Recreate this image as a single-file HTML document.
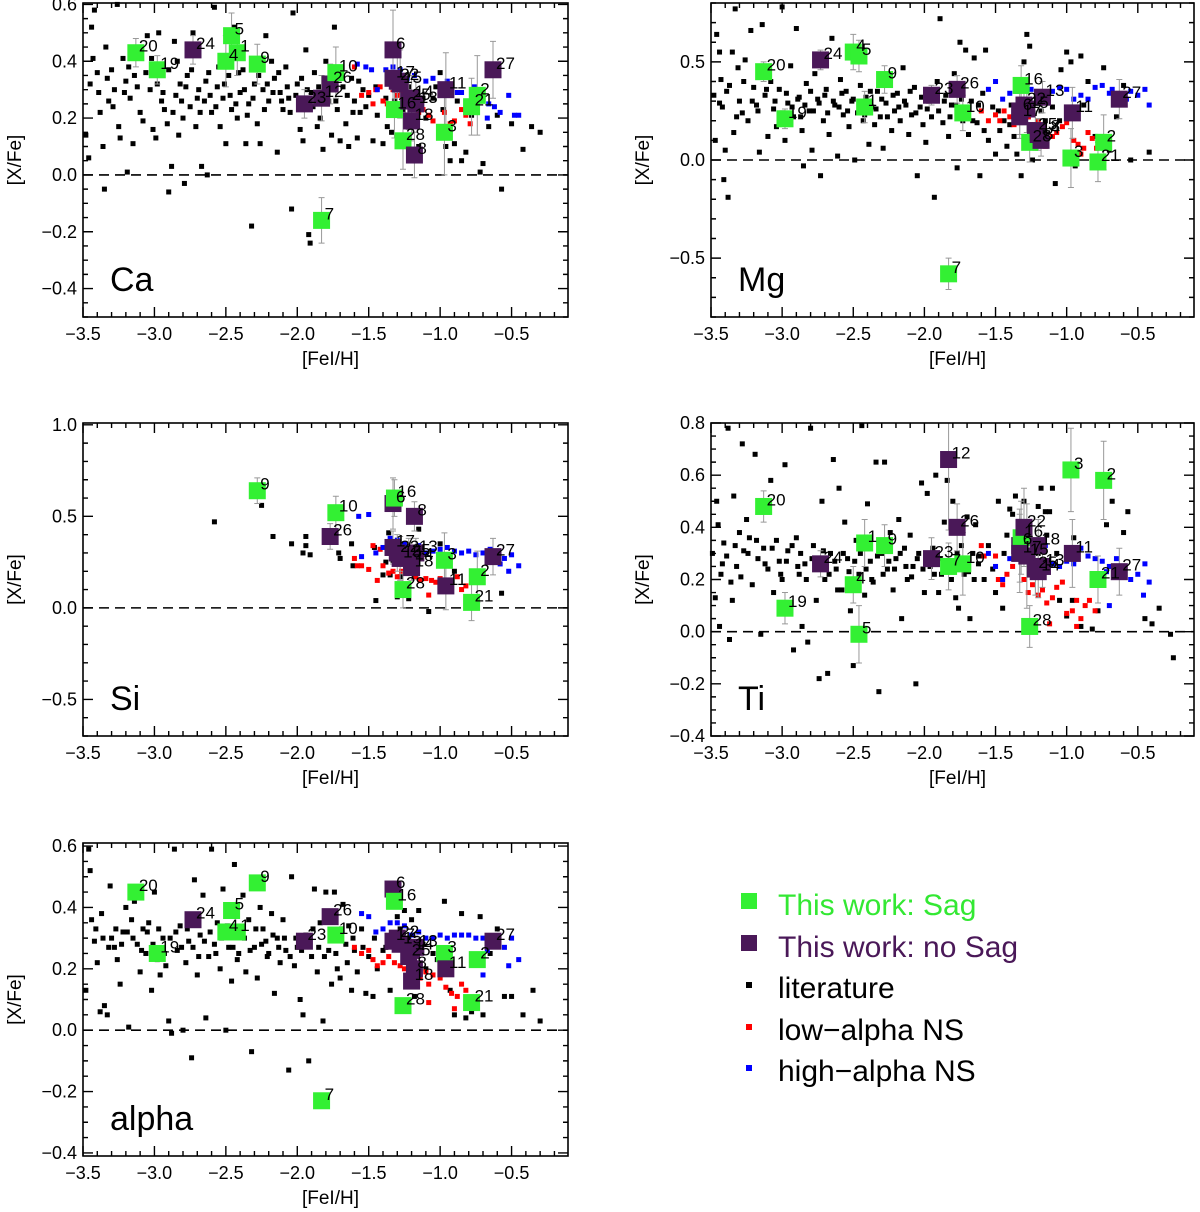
<!DOCTYPE html>
<html><head><meta charset="utf-8"><style>
html,body{margin:0;padding:0;background:#fff}
svg{display:block;font-family:"Liberation Sans",sans-serif}
</style></head><body>
<svg id="fig" width="1200" height="1212" viewBox="0 0 1200 1212" xmlns="http://www.w3.org/2000/svg">
<g>
<rect x="741" y="893" width="16" height="16" fill="#33f033"/>
<text x="778" y="915" font-size="30" fill="#33e833">This work: Sag</text>
<rect x="741" y="935" width="16" height="16" fill="#4a1858"/>
<text x="778" y="957" font-size="30" fill="#4a1858">This work: no Sag</text>
<rect x="746" y="982" width="6" height="6" fill="#000"/>
<text x="778" y="998" font-size="30" fill="#000">literature</text>
<rect x="746" y="1024" width="6" height="6" fill="#f00"/>
<text x="778" y="1040" font-size="30" fill="#000">low−alpha NS</text>
<rect x="746" y="1065" width="6" height="6" fill="#00f"/>
<text x="778" y="1081" font-size="30" fill="#000">high−alpha NS</text>
</g>
</svg>
<script>
// ---- data ----
const starIds = [20,19,24,4,5,1,9,23,12,7,26,10,6,16,17,22,15,25,28,14,13,18,8,3,11,21,2,27];
const starFe  = [-3.13,-2.98,-2.73,-2.50,-2.46,-2.42,-2.28,-1.95,-1.83,-1.83,-1.77,-1.73,-1.33,-1.32,-1.33,-1.30,-1.28,-1.22,-1.26,-1.20,-1.17,-1.20,-1.18,-0.97,-0.96,-0.78,-0.74,-0.63];
const starSag = [1,1,0,1,1,1,1,0,0,1,0,1,0,1,0,0,0,0,1,0,0,0,0,1,0,1,1,0];
const caVals  = [0.43,0.37,0.44,0.40,0.49,0.43,0.39,0.25,0.27,-0.16,0.32,0.36,0.44,0.23,0.34,0.33,0.32,0.26,0.12,0.27,0.25,0.19,0.07,0.15,0.30,0.24,0.28,0.37];
const mgVals  = [0.45,0.21,0.51,0.55,0.53,0.27,0.41,0.33,null,-0.58,0.36,0.24,0.25,0.38,0.22,0.28,0.26,0.15,0.09,0.13,0.32,0.14,0.10,0.01,0.24,-0.01,0.09,0.31];
const siVals  = [null,null,null,null,null,null,0.64,null,null,null,0.39,0.52,0.57,0.60,0.33,0.30,0.27,0.28,0.10,0.26,0.30,0.22,0.50,0.26,0.12,0.03,0.17,0.28];
const tiVals  = [0.48,0.09,0.26,0.18,-0.01,0.34,0.33,0.28,0.66,0.25,0.40,0.26,0.33,0.36,0.30,0.40,0.29,0.24,0.02,0.23,0.25,0.33,null,0.62,0.30,0.20,0.58,0.23];
const alVals  = [0.45,0.25,0.36,0.32,0.39,0.32,0.48,0.29,null,-0.23,0.37,0.31,0.46,0.42,0.29,0.30,0.28,0.24,0.08,0.26,0.27,0.16,0.20,0.25,0.20,0.09,0.23,0.29];
const starErr = [0.05,0.05,0.05,0.09,0.08,0.08,0.07,0.05,0.08,0.08,0.07,0.09,0.14,0.1,0.09,0.1,0.12,0.1,0.1,0.08,0.08,0.07,0.08,0.15,0.13,0.1,0.14,0.1];
const tiErr   = [0.06,0.06,0.05,0.07,0.11,0.09,0.08,0.08,0.27,0.09,0.09,0.12,0.14,0.14,0.15,0.15,0.2,0.1,0.08,0.1,0.08,0.1,0.1,0.16,0.13,0.09,0.15,0.09];

const litCa = [[-3.48,0.14],[-3.46,0.06],[-3.45,0.32],[-3.44,0.52],[-3.42,0.58],[-3.4,0.36],[-3.38,0.22],[-3.36,0.1],[-3.35,-0.05],[-3.34,0.45],[-3.32,0.26],[-3.3,0.37],[-3.28,0.3],[-3.26,0.6],[-3.25,0.17],[-3.24,0.13],[-3.22,0.41],[-3.2,0.33],[-3.19,0.01],[-3.17,0.27],[-3.15,0.11],[-3.14,0.35],[-3.1,0.22],[-3.08,0.19],[-3.05,0.49],[-3.03,0.3],[-3.01,0.16],[-2.99,0.13],[-2.97,0.5],[-2.95,0.26],[-2.93,0.23],[-2.91,0.18],[-2.9,-0.06],[-2.88,0.03],[-2.86,0.47],[-2.85,0.28],[-2.83,0.14],[-2.82,0.32],[-2.8,0.2],[-2.79,-0.03],[-2.77,0.35],[-2.75,0.24],[-2.73,0.5],[-2.71,0.17],[-2.69,0.3],[-2.67,0.03],[-2.65,0.26],[-2.63,0.0],[-2.62,0.36],[-2.6,0.22],[-2.58,0.59],[-2.56,0.31],[-2.54,0.17],[-2.52,0.27],[-2.5,0.11],[-2.48,0.35],[-2.46,0.23],[-2.44,0.52],[-2.42,0.2],[-2.4,0.29],[-2.38,0.37],[-2.36,0.11],[-2.34,0.25],[-2.32,-0.18],[-2.3,0.32],[-2.28,0.18],[-2.26,0.11],[-2.24,0.3],[-2.22,0.49],[-2.2,0.26],[-2.18,0.4],[-2.16,0.34],[-2.14,0.08],[-2.12,0.29],[-2.1,0.23],[-2.08,0.38],[-2.06,0.27],[-2.04,-0.12],[-2.03,0.57],[-2.0,0.32],[-1.98,0.16],[-1.96,0.12],[-1.94,0.44],[-1.92,-0.21],[-1.91,-0.24],[-1.9,0.29],[-1.88,0.36],[-1.86,0.17],[-1.84,0.2],[-1.82,0.09],[-1.8,0.4],[-1.78,0.26],[-1.76,0.14],[-1.74,0.52],[-1.72,0.23],[-1.7,0.12],[-1.68,0.31],[-1.66,0.18],[-1.64,0.1],[-1.62,0.34],[-1.6,0.26],[-1.58,0.13],[-1.56,0.22],[-1.54,0.3],[-1.5,0.28],[-1.47,0.12],[-1.44,0.21],[-1.4,0.11],[-1.37,0.17],[-1.34,0.15],[-1.3,0.21],[-1.28,0.34],[-1.25,0.14],[-1.22,0.31],[-1.18,0.23],[-1.15,0.1],[-1.1,0.2],[-1.05,0.27],[-1.0,0.36],[-0.96,0.1],[-0.93,0.05],[-0.9,0.11],[-0.85,0.05],[-0.82,0.08],[-0.78,0.21],[-0.72,0.01],[-0.7,0.04],[-0.66,0.17],[-0.6,0.21],[-0.57,-0.05],[-0.5,0.18],[-0.42,0.09],[-0.36,0.17],[-0.3,0.15]];
const litCa2 = [[-3.43,0.41],[-3.39,0.29],[-3.33,0.34],[-3.29,0.24],[-3.21,0.29],[-3.18,0.38],[-3.12,0.31],[-3.06,0.36],[-3.02,0.41],[-2.98,0.32],[-2.94,0.29],[-2.9,0.37],[-2.87,0.22],[-2.84,0.4],[-2.81,0.26],[-2.78,0.31],[-2.74,0.37],[-2.7,0.27],[-2.68,0.22],[-2.64,0.33],[-2.61,0.28],[-2.57,0.24],[-2.55,0.38],[-2.51,0.32],[-2.47,0.28],[-2.43,0.25],[-2.41,0.36],[-2.37,0.3],[-2.35,0.21],[-2.31,0.27],[-2.27,0.35],[-2.23,0.23],[-2.21,0.32],[-2.17,0.29],[-2.13,0.36],[-2.11,0.26],[-2.07,0.31],[-2.05,0.22],[-2.01,0.28],[-1.97,0.34],[-1.93,0.3],[-1.89,0.24],[-1.85,0.31],[-1.81,0.33],[-1.77,0.3],[-1.73,0.26],[-1.69,0.37],[-1.65,0.28],[-1.61,0.22],[-1.57,0.33],[-1.52,0.24],[-1.45,0.31],[-1.38,0.27],[-1.32,0.26],[-1.26,0.23],[-1.2,0.18],[-1.12,0.27],[-1.03,0.31],[-0.98,0.23],[-0.88,0.26]];
const litMg = [[-3.48,0.33],[-3.47,0.1],[-3.46,0.64],[-3.44,0.55],[-3.43,0.41],[-3.42,0.27],[-3.41,-0.1],[-3.4,0.05],[-3.38,-0.19],[-3.37,0.38],[-3.35,0.55],[-3.34,0.14],[-3.33,0.77],[-3.31,0.47],[-3.3,0.3],[-3.28,0.24],[-3.26,0.51],[-3.24,0.2],[-3.22,0.66],[-3.2,0.37],[-3.18,0.28],[-3.16,0.04],[-3.14,0.69],[-3.12,0.33],[-3.1,0.12],[-3.08,0.4],[-3.06,0.26],[-3.04,0.17],[-3.02,0.36],[-3.0,0.78],[-2.98,0.1],[-2.96,0.29],[-2.94,0.48],[-2.92,0.22],[-2.9,0.67],[-2.88,0.32],[-2.86,0.15],[-2.85,-0.03],[-2.83,0.39],[-2.81,0.25],[-2.79,0.05],[-2.77,0.44],[-2.75,0.31],[-2.73,-0.08],[-2.71,0.2],[-2.69,0.36],[-2.67,0.13],[-2.65,0.62],[-2.63,0.28],[-2.61,0.02],[-2.59,0.41],[-2.57,0.23],[-2.55,0.35],[-2.53,0.17],[-2.51,0.3],[-2.49,0.0],[-2.47,0.24],[-2.45,0.38],[-2.43,0.2],[-2.41,0.32],[-2.39,0.08],[-2.37,0.27],[-2.35,0.18],[-2.33,0.35],[-2.31,0.22],[-2.29,0.06],[-2.27,0.29],[-2.25,0.4],[-2.23,0.15],[-2.21,0.25],[-2.19,0.34],[-2.17,0.2],[-2.15,0.47],[-2.13,0.28],[-2.11,0.13],[-2.09,0.23],[-2.07,0.37],[-2.05,-0.08],[-2.03,0.27],[-2.01,0.18],[-1.99,0.09],[-1.97,0.3],[-1.95,0.22],[-1.93,-0.19],[-1.91,0.4],[-1.89,0.72],[-1.87,0.19],[-1.85,0.33],[-1.83,0.12],[-1.81,0.28],[-1.79,0.44],[-1.77,-0.04],[-1.75,0.6],[-1.73,0.2],[-1.71,0.56],[-1.69,0.13],[-1.67,0.3],[-1.65,0.52],[-1.63,0.19],[-1.61,-0.08],[-1.59,0.34],[-1.57,0.56],[-1.55,0.1],[-1.52,0.27],[-1.5,0.03],[-1.47,0.15],[-1.44,0.2],[-1.42,0.07],[-1.39,0.28],[-1.37,0.12],[-1.35,0.03],[-1.32,-0.08],[-1.3,0.5],[-1.28,0.64],[-1.26,0.58],[-1.24,0.0],[-1.2,0.3],[-1.15,0.2],[-1.1,0.27],[-1.08,-0.12],[-1.04,0.46],[-1.0,0.55],[-0.97,0.5],[-0.94,-0.03],[-0.9,0.53],[-0.85,0.4],[-0.8,0.12],[-0.74,0.47],[-0.7,0.05],[-0.65,0.22],[-0.6,0.38],[-0.55,0.0],[-0.42,0.04]];
const litMg2 = [[-3.44,0.29],[-3.39,0.35],[-3.32,0.22],[-3.27,0.4],[-3.21,0.3],[-3.17,0.25],[-3.11,0.36],[-3.05,0.3],[-3.0,0.24],[-2.97,0.34],[-2.93,0.27],[-2.89,0.31],[-2.87,0.22],[-2.84,0.28],[-2.8,0.35],[-2.78,0.25],[-2.74,0.29],[-2.7,0.33],[-2.68,0.24],[-2.64,0.3],[-2.6,0.27],[-2.58,0.34],[-2.54,0.25],[-2.5,0.31],[-2.46,0.29],[-2.42,0.23],[-2.38,0.35],[-2.34,0.26],[-2.3,0.31],[-2.26,0.22],[-2.22,0.33],[-2.18,0.27],[-2.14,0.3],[-2.1,0.35],[-2.06,0.24],[-2.02,0.32],[-1.98,0.26],[-1.94,0.33],[-1.9,0.25],[-1.86,0.3],[-1.82,0.22],[-1.78,0.28],[-1.74,0.31],[-1.7,0.24],[-1.66,0.2],[-1.62,0.28],[-1.58,0.15],[-1.48,0.25],[-1.4,0.18],[-1.33,0.3],[-1.27,0.22],[-1.18,0.25],[-1.05,0.2],[-0.88,0.28]];
const litSi = [[-2.58,0.47],[-2.25,0.56],[-2.17,0.39],[-2.04,0.35],[-1.96,0.3],[-1.94,0.34],[-1.94,0.39],[-1.91,0.29],[-1.73,0.54],[-1.71,0.3],[-1.7,0.27],[-1.62,0.35],[-1.61,0.23],[-1.46,0.33],[-1.45,0.04],[-1.38,0.25],[-1.36,0.41],[-1.35,0.18],[-1.33,0.26],[-1.3,0.06],[-1.28,0.17],[-1.22,0.05],[-1.18,0.17],[-1.15,0.43],[-1.08,-0.02],[-1.0,0.35],[-0.9,0.2],[-0.57,0.08],[-1.2,0.3],[-1.4,0.18]];
const litTi = [[-3.49,0.3],[-3.47,0.13],[-3.46,0.5],[-3.45,0.41],[-3.44,0.02],[-3.42,0.26],[-3.41,0.34],[-3.38,0.78],[-3.37,-0.03],[-3.36,0.19],[-3.35,0.12],[-3.34,0.52],[-3.32,0.25],[-3.3,0.38],[-3.28,0.72],[-3.27,0.31],[-3.25,0.43],[-3.23,0.36],[-3.21,0.18],[-3.19,0.68],[-3.17,0.28],[-3.15,-0.01],[-3.13,0.32],[-3.1,0.24],[-3.08,0.58],[-3.06,0.15],[-3.04,0.35],[-3.02,0.27],[-3.0,0.2],[-2.98,0.64],[-2.96,0.31],[-2.94,0.08],[-2.92,-0.07],[-2.9,0.36],[-2.88,0.22],[-2.86,0.02],[-2.84,0.26],[-2.82,-0.04],[-2.8,0.78],[-2.78,0.33],[-2.76,0.12],[-2.74,-0.18],[-2.72,0.5],[-2.7,0.2],[-2.68,-0.16],[-2.66,0.3],[-2.64,0.66],[-2.62,0.24],[-2.6,0.55],[-2.58,0.16],[-2.56,0.42],[-2.54,0.28],[-2.52,0.08],[-2.5,-0.13],[-2.48,0.35],[-2.46,0.22],[-2.44,0.79],[-2.42,0.14],[-2.4,0.49],[-2.38,0.27],[-2.36,0.19],[-2.34,0.65],[-2.32,-0.23],[-2.3,0.3],[-2.28,0.65],[-2.26,0.24],[-2.24,0.38],[-2.22,0.16],[-2.2,0.28],[-2.18,0.43],[-2.16,0.05],[-2.14,0.32],[-2.12,0.2],[-2.1,0.37],[-2.08,0.25],[-2.06,-0.2],[-2.04,0.3],[-2.02,0.57],[-2.0,0.15],[-1.98,0.53],[-1.96,0.25],[-1.94,0.32],[-1.92,0.6],[-1.9,0.15],[-1.88,0.22],[-1.86,0.42],[-1.84,0.58],[-1.82,0.27],[-1.8,0.5],[-1.78,0.13],[-1.76,0.09],[-1.74,0.33],[-1.72,0.22],[-1.7,0.44],[-1.68,0.05],[-1.66,0.3],[-1.64,0.41],[-1.62,0.26],[-1.58,0.2],[-1.55,0.33],[-1.5,0.15],[-1.48,0.5],[-1.45,0.09],[-1.42,0.37],[-1.4,0.47],[-1.38,0.45],[-1.36,0.52],[-1.34,0.4],[-1.3,0.5],[-1.27,0.3],[-1.24,0.22],[-1.2,0.48],[-1.18,0.55],[-1.15,0.46],[-1.12,0.46],[-1.1,0.55],[-1.05,0.12],[-1.0,0.06],[-0.96,0.12],[-0.9,0.02],[-0.82,0.01],[-0.78,0.08],[-0.72,0.41],[-0.68,0.5],[-0.6,0.38],[-0.57,0.46],[-0.45,0.05],[-0.4,0.03],[-0.35,0.09],[-0.27,-0.01],[-0.25,-0.1]];
const litTi2 = [[-3.43,0.22],[-3.39,0.29],[-3.33,0.33],[-3.29,0.21],[-3.24,0.3],[-3.18,0.35],[-3.12,0.26],[-3.07,0.32],[-3.01,0.22],[-2.97,0.27],[-2.93,0.33],[-2.89,0.25],[-2.87,0.3],[-2.83,0.2],[-2.79,0.28],[-2.75,0.24],[-2.71,0.31],[-2.67,0.22],[-2.63,0.27],[-2.61,0.16],[-2.57,0.3],[-2.53,0.23],[-2.49,0.27],[-2.45,0.3],[-2.41,0.24],[-2.37,0.2],[-2.33,0.29],[-2.29,0.22],[-2.25,0.27],[-2.21,0.24],[-2.17,0.3],[-2.13,0.25],[-2.09,0.21],[-2.05,0.28],[-2.01,0.24],[-1.97,0.3],[-1.93,0.22],[-1.89,0.28],[-1.85,0.25],[-1.81,0.2],[-1.77,0.3],[-1.73,0.27],[-1.69,0.23],[-1.65,0.2],[-1.61,0.29],[-1.52,0.24],[-1.44,0.3],[-1.37,0.35],[-1.32,0.28],[-1.26,0.4],[-1.2,0.3],[-1.14,0.37],[-1.07,0.3],[-0.95,0.36]];
const litAl = [[-3.48,0.13],[-3.46,0.59],[-3.45,0.52],[-3.44,0.36],[-3.42,0.29],[-3.4,0.22],[-3.38,0.06],[-3.37,0.38],[-3.35,0.08],[-3.33,0.05],[-3.31,0.47],[-3.3,0.3],[-3.28,0.27],[-3.26,0.23],[-3.24,0.15],[-3.22,0.32],[-3.2,0.4],[-3.18,0.01],[-3.16,0.36],[-3.14,0.42],[-3.12,0.28],[-3.1,0.19],[-3.08,0.33],[-3.06,0.25],[-3.04,0.35],[-3.02,0.13],[-3.0,0.45],[-2.98,0.23],[-2.96,0.18],[-2.94,0.3],[-2.92,0.21],[-2.9,0.03],[-2.88,-0.01],[-2.86,0.59],[-2.84,0.26],[-2.82,0.34],[-2.8,0.0],[-2.78,0.22],[-2.76,0.29],[-2.74,-0.09],[-2.72,0.49],[-2.7,0.18],[-2.68,0.31],[-2.66,0.44],[-2.64,0.04],[-2.62,0.24],[-2.6,0.59],[-2.58,0.28],[-2.56,0.35],[-2.54,0.2],[-2.52,0.46],[-2.5,0.0],[-2.48,0.27],[-2.46,0.16],[-2.44,0.54],[-2.42,0.23],[-2.4,0.31],[-2.38,0.44],[-2.36,0.19],[-2.34,0.36],[-2.32,-0.07],[-2.3,0.27],[-2.28,0.17],[-2.26,0.4],[-2.24,0.33],[-2.22,0.29],[-2.2,0.25],[-2.18,0.38],[-2.16,0.12],[-2.14,0.3],[-2.12,0.22],[-2.1,0.36],[-2.08,0.26],[-2.06,-0.13],[-2.04,0.5],[-2.02,0.21],[-2.0,0.27],[-1.98,0.1],[-1.96,0.05],[-1.94,0.31],[-1.92,-0.1],[-1.9,0.24],[-1.88,0.46],[-1.86,0.19],[-1.84,0.35],[-1.82,0.03],[-1.8,0.45],[-1.78,0.26],[-1.76,0.15],[-1.74,0.45],[-1.72,0.2],[-1.7,0.17],[-1.68,0.41],[-1.66,0.28],[-1.64,0.34],[-1.62,0.13],[-1.6,0.26],[-1.58,0.19],[-1.55,0.33],[-1.52,0.12],[-1.5,0.24],[-1.47,0.11],[-1.44,0.2],[-1.4,0.26],[-1.35,0.13],[-1.3,0.37],[-1.25,0.39],[-1.22,0.3],[-1.18,0.11],[-1.15,0.39],[-1.1,0.2],[-1.05,0.25],[-1.0,0.18],[-0.97,0.42],[-0.93,0.13],[-0.9,0.05],[-0.85,0.38],[-0.82,0.04],[-0.78,0.06],[-0.72,0.37],[-0.7,0.05],[-0.65,0.25],[-0.6,0.33],[-0.55,0.11],[-0.5,0.11],[-0.42,0.05],[-0.35,0.13],[-0.3,0.03]];
const litAl2 = [[-3.41,0.33],[-3.36,0.3],[-3.32,0.27],[-3.27,0.33],[-3.23,0.28],[-3.19,0.32],[-3.15,0.3],[-3.09,0.26],[-3.05,0.32],[-3.01,0.28],[-2.97,0.33],[-2.93,0.25],[-2.89,0.3],[-2.85,0.32],[-2.81,0.27],[-2.77,0.33],[-2.73,0.27],[-2.69,0.24],[-2.65,0.29],[-2.61,0.32],[-2.57,0.25],[-2.53,0.3],[-2.49,0.34],[-2.45,0.27],[-2.41,0.25],[-2.37,0.3],[-2.33,0.26],[-2.29,0.33],[-2.25,0.28],[-2.21,0.24],[-2.17,0.31],[-2.13,0.27],[-2.09,0.3],[-2.05,0.24],[-2.01,0.3],[-1.97,0.26],[-1.93,0.29],[-1.89,0.33],[-1.85,0.27],[-1.81,0.24],[-1.77,0.3],[-1.73,0.25],[-1.69,0.33],[-1.65,0.22],[-1.61,0.3],[-1.54,0.27],[-1.46,0.3],[-1.38,0.27],[-1.28,0.33],[-1.2,0.36],[-1.12,0.28],[-1.02,0.23]];

const redCa = [[-1.6,0.38],[-1.55,0.28],[-1.5,0.29],[-1.47,0.25],[-1.45,0.3],[-1.42,0.31],[-1.4,0.26],[-1.37,0.25],[-1.33,0.3],[-1.3,0.28],[-1.27,0.29],[-1.25,0.27],[-1.22,0.25],[-1.2,0.29],[-1.17,0.24],[-1.15,0.22],[-1.12,0.23],[-1.08,0.21],[-1.05,0.19],[-1.0,0.28],[-0.97,0.22],[-0.93,0.18],[-0.9,0.19],[-0.85,0.23],[-0.82,0.21],[-0.79,0.18]];
const blueCa = [[-1.58,0.39],[-1.52,0.38],[-1.48,0.37],[-1.44,0.3],[-1.38,0.37],[-1.33,0.38],[-1.28,0.37],[-1.23,0.34],[-1.18,0.35],[-1.1,0.33],[-1.05,0.34],[-1.0,0.32],[-0.95,0.33],[-0.92,0.3],[-0.88,0.29],[-0.85,0.29],[-0.8,0.26],[-0.76,0.31],[-0.72,0.3],[-0.7,0.27],[-0.66,0.25],[-0.62,0.24],[-0.58,0.22],[-0.52,0.28],[-0.48,0.21],[-0.45,0.21],[-0.67,0.2]];
const redMg = [[-1.6,0.25],[-1.55,0.2],[-1.5,0.23],[-1.47,0.2],[-1.44,0.25],[-1.4,0.22],[-1.37,0.18],[-1.33,0.2],[-1.3,0.24],[-1.27,0.22],[-1.24,0.18],[-1.22,0.15],[-1.2,0.2],[-1.17,0.1],[-1.15,0.07],[-1.1,0.12],[-1.07,0.14],[-1.03,0.17],[-1.0,0.19],[-0.95,0.1],[-0.92,0.08],[-0.88,0.06],[-0.85,0.14],[-0.82,0.11],[-0.79,0.06],[-0.9,0.03]];
const blueMg = [[-1.55,0.36],[-1.5,0.4],[-1.45,0.31],[-1.4,0.34],[-1.35,0.35],[-1.3,0.38],[-1.25,0.36],[-1.2,0.33],[-1.15,0.3],[-1.1,0.35],[-1.05,0.37],[-1.0,0.36],[-0.95,0.31],[-0.9,0.33],[-0.85,0.31],[-0.8,0.37],[-0.75,0.38],[-0.7,0.34],[-0.65,0.32],[-0.6,0.29],[-0.55,0.35],[-0.5,0.33],[-0.45,0.36],[-0.42,0.28],[-0.68,0.36],[-0.58,0.31]];
const redSi = [[-1.6,0.27],[-1.58,0.23],[-1.55,0.23],[-1.5,0.21],[-1.47,0.34],[-1.44,0.15],[-1.42,0.32],[-1.4,0.23],[-1.36,0.19],[-1.33,0.2],[-1.3,0.17],[-1.27,0.2],[-1.24,0.19],[-1.2,0.23],[-1.17,0.17],[-1.14,0.15],[-1.1,0.16],[-1.06,0.15],[-1.03,0.14],[-1.0,0.16],[-0.96,0.12],[-0.92,0.14],[-0.88,0.17],[-0.85,0.1],[-0.82,0.12],[-0.78,0.06],[-1.08,0.07]];
const blueSi = [[-1.57,0.5],[-1.5,0.51],[-1.55,0.28],[-1.45,0.3],[-1.4,0.33],[-1.35,0.38],[-1.3,0.37],[-1.25,0.35],[-1.2,0.33],[-1.15,0.34],[-1.1,0.3],[-1.05,0.31],[-1.0,0.32],[-0.95,0.33],[-0.9,0.31],[-0.85,0.3],[-0.8,0.31],[-0.75,0.29],[-0.7,0.3],[-0.65,0.32],[-0.6,0.28],[-0.55,0.27],[-0.5,0.29],[-0.45,0.23],[-0.52,0.2],[-0.58,0.24]];
const redTi = [[-1.58,0.29],[-1.5,0.29],[-1.48,0.2],[-1.45,0.18],[-1.42,0.22],[-1.38,0.25],[-1.35,0.28],[-1.3,0.2],[-1.27,0.15],[-1.24,0.18],[-1.2,0.14],[-1.17,0.16],[-1.14,0.11],[-1.1,0.13],[-1.07,0.17],[-1.03,0.19],[-1.0,0.07],[-0.96,0.08],[-0.93,0.12],[-0.9,0.05],[-0.87,0.1],[-0.84,0.12],[-0.8,0.08],[-0.93,0.02],[-1.12,0.03],[-1.6,0.33]];
const blueTi = [[-1.55,0.3],[-1.5,0.25],[-1.45,0.2],[-1.4,0.28],[-1.35,0.3],[-1.3,0.32],[-1.2,0.34],[-1.15,0.33],[-1.1,0.26],[-1.05,0.25],[-1.0,0.27],[-0.95,0.26],[-0.9,0.32],[-0.85,0.29],[-0.8,0.28],[-0.75,0.27],[-0.7,0.25],[-0.65,0.28],[-0.6,0.24],[-0.55,0.2],[-0.5,0.22],[-0.45,0.26],[-0.42,0.19],[-0.46,0.14],[-0.7,0.1],[-0.72,0.23]];
const redAl = [[-1.6,0.27],[-1.55,0.25],[-1.5,0.26],[-1.47,0.23],[-1.44,0.21],[-1.4,0.22],[-1.36,0.24],[-1.32,0.22],[-1.28,0.21],[-1.25,0.2],[-1.22,0.21],[-1.2,0.19],[-1.17,0.18],[-1.14,0.17],[-1.1,0.19],[-1.08,0.15],[-1.05,0.18],[-1.0,0.17],[-0.96,0.14],[-0.92,0.12],[-0.88,0.11],[-0.85,0.15],[-0.82,0.13],[-0.78,0.09],[-1.08,0.09],[-0.9,0.07]];
const blueAl = [[-1.55,0.38],[-1.5,0.37],[-1.45,0.32],[-1.4,0.33],[-1.35,0.35],[-1.3,0.35],[-1.25,0.34],[-1.2,0.31],[-1.15,0.32],[-1.1,0.3],[-1.05,0.3],[-1.0,0.31],[-0.95,0.3],[-0.9,0.31],[-0.85,0.31],[-0.8,0.31],[-0.75,0.3],[-0.7,0.3],[-0.65,0.28],[-0.6,0.29],[-0.55,0.27],[-0.5,0.3],[-0.45,0.23],[-0.52,0.21],[-0.7,0.18],[-0.67,0.26]];

const xTicks = [-3.5,-3.0,-2.5,-2.0,-1.5,-1.0,-0.5];
const xTickLabels = ["−3.5","−3.0","−2.5","−2.0","−1.5","−1.0","−0.5"];

// ---- drawing ----
const NS = "http://www.w3.org/2000/svg";
const svg = document.getElementById('fig');
function mk(tag, attrs, parent){const e=document.createElementNS(NS,tag);for(const k in attrs)e.setAttribute(k,attrs[k]);(parent||svg).appendChild(e);return e;}

const panels = [
 {key:'ca', label:'Ca', L:83, R:568, T:3, B:317, ymin:-0.5, ymax:0.605, ymaj:0.2, ymin2:0.05, lit:litCa.concat(litCa2), red:redCa, blue:blueCa, vals:caVals, err:starErr},
 {key:'mg', label:'Mg', L:711, R:1194, T:3, B:317, ymin:-0.8, ymax:0.8, ymaj:0.5, ymin2:0.1, lit:litMg.concat(litMg2), red:redMg, blue:blueMg, vals:mgVals, err:starErr},
 {key:'si', label:'Si', L:83, R:568, T:423, B:736, ymin:-0.7, ymax:1.01, ymaj:0.5, ymin2:0.1, lit:litSi, red:redSi, blue:blueSi, vals:siVals, err:starErr},
 {key:'ti', label:'Ti', L:711, R:1194, T:423, B:736, ymin:-0.4, ymax:0.8, ymaj:0.2, ymin2:0.05, lit:litTi.concat(litTi2), red:redTi, blue:blueTi, vals:tiVals, err:tiErr},
 {key:'alpha', label:'alpha', L:83, R:568, T:843, B:1156, ymin:-0.41, ymax:0.61, ymaj:0.2, ymin2:0.05, lit:litAl.concat(litAl2), red:redAl, blue:blueAl, vals:alVals, err:null}
];
const XMIN=-3.5, XMAX=-0.105;

panels.forEach(p=>{
  const g = mk('g',{});
  
  
  const sx = v => p.L + (v-XMIN)/(XMAX-XMIN)*(p.R-p.L);
  const sy = v => p.B - (v-p.ymin)/(p.ymax-p.ymin)*(p.B-p.T);
  const z = mk('line',{x1:p.L,x2:p.R,y1:sy(0),y2:sy(0),stroke:'#000','stroke-width':1.6,'stroke-dasharray':'10,6'},g);
  
  
  p.lit.forEach(d=>{
    const r = mk('rect',{x:sx(d[0])-2.5,y:sy(d[1])-2.5,width:5,height:5,fill:'#000'},g);
    
    
  });
  p.red.forEach(d=>{
    const r = mk('rect',{x:sx(d[0])-2.5,y:sy(d[1])-2.5,width:5,height:5,fill:'#f00'},g);
    
    
  });
  p.blue.forEach(d=>{
    const r = mk('rect',{x:sx(d[0])-2.5,y:sy(d[1])-2.5,width:5,height:5,fill:'#00f'},g);
    
    
  });
  if(p.err){
    starIds.forEach((id,i)=>{
      const v=p.vals[i]; if(v===null) return;
      const e=p.err[i], x=sx(starFe[i]);
      const eb = mk('path',{d:`M${x},${sy(v-e)}V${sy(Math.min(v+e,p.ymax))}M${x-3},${sy(v-e)}h6M${x-3},${sy(Math.min(v+e,p.ymax))}h6`,stroke:'#999','stroke-width':1,fill:'none'},g);
      
      
    });
  }
  starIds.forEach((id,i)=>{
    const v=p.vals[i]; if(v===null) return;
    const r = mk('rect',{x:sx(starFe[i])-8.5,y:sy(v)-8.5,width:17,height:17,fill:starSag[i]?'#33f033':'#4a1858'},g);
    
    
  });
  starIds.forEach((id,i)=>{
    const v=p.vals[i]; if(v===null) return;
    const t = mk('text',{x:sx(starFe[i])+3,y:sy(v)-1,'font-size':17,fill:'#000'},g);
    t.textContent=id;
    
    
  });
  const fr = mk('rect',{x:p.L,y:p.T,width:p.R-p.L,height:p.B-p.T,fill:'none',stroke:'#000','stroke-width':1.6},g);
  
  
  let d='';
  for(let v=-3.5; v<=XMAX+1e-9; v+=0.1){
    const x=sx(v); const major=Math.abs(Math.round(v*2)-v*2)<1e-6; const len=major?10:5;
    d+=`M${x},${p.B}v${-len}M${x},${p.T}v${len}`;
  }
  const start=Math.ceil((p.ymin-1e-9)/p.ymin2)*p.ymin2;
  for(let v=start; v<=p.ymax+1e-9; v+=p.ymin2){
    const y=sy(v); const r=v/p.ymaj; const major=Math.abs(Math.round(r)-r)<1e-6; const len=major?10:5;
    d+=`M${p.L},${y}h${len}M${p.R},${y}h${-len}`;
  }
  const tk = mk('path',{d:d,stroke:'#000','stroke-width':1.4,fill:'none'},g);
  
  
  xTicks.forEach((v,i)=>{
    const t = mk('text',{x:sx(v),y:p.B+23,'font-size':18,'text-anchor':'middle'},g);
    t.textContent=xTickLabels[i];
    
    
  });
  for(let k=Math.ceil((p.ymin-1e-9)/p.ymaj); k*p.ymaj<=p.ymax+1e-9; k++){
    const v=k*p.ymaj;
    const t = mk('text',{x:p.L-6,y:sy(v)+6,'font-size':18,'text-anchor':'end'},g);
    t.textContent=(v<0?'−':'')+Math.abs(v).toFixed(1);
    
    
  }
  const xt = mk('text',{x:(p.L+p.R)/2+5,y:p.B+48,'font-size':19,'text-anchor':'middle'},g);
  xt.textContent='[FeI/H]';
  
  
  const yc=(p.T+p.B)/2, yx=p.L-62;
  const yt = mk('text',{x:yx,y:yc,'font-size':19,'text-anchor':'middle',transform:`rotate(-90 ${yx} ${yc})`},g);
  yt.textContent='[X/Fe]';
  
  
  const el = mk('text',{x:p.L+27,y:p.B-26,'font-size':34,fill:'#000'},g);
  el.textContent=p.label;
  
  
});
</script>
</body></html>
